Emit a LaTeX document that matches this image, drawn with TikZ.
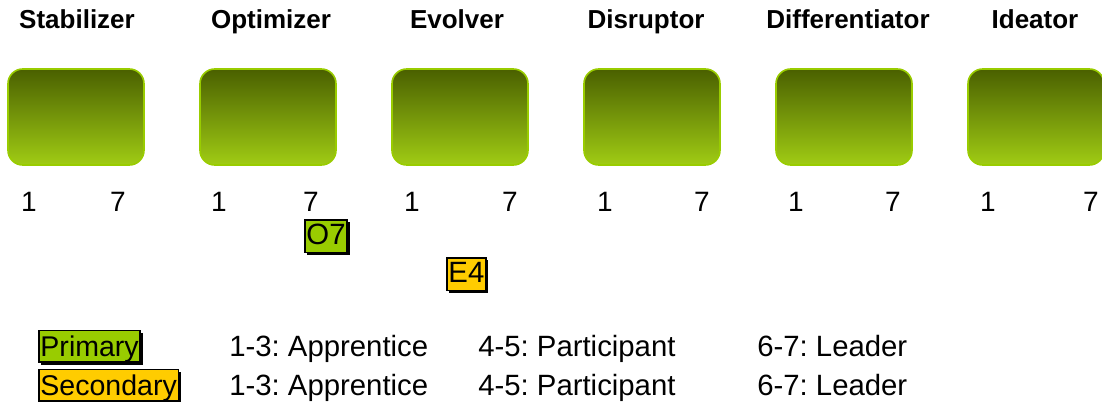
\documentclass[tikz,border=0pt]{standalone}
\usepackage{fontspec}
\setmainfont{Liberation Sans}
\usetikzlibrary{shadows}
\definecolor{boxtop}{RGB}{74,96,0}
\definecolor{boxbot}{RGB}{160,204,20}
\definecolor{boxedge}{RGB}{153,204,0}
\definecolor{prim}{RGB}{153,204,0}
\definecolor{secy}{RGB}{255,204,0}
\tikzset{
  title/.style={anchor=base, font=\fontsize{19.5}{22}\selectfont\bfseries, inner sep=0pt},
  num/.style={anchor=base, font=\fontsize{21}{24}\selectfont, inner sep=0pt},
  leg/.style={anchor=base west, font=\fontsize{22}{24}\selectfont, inner sep=0pt},
  rolebox/.style={rectangle, rounded corners=11pt, top color=boxtop, bottom color=boxbot,
     draw=boxedge, line width=1.2pt, minimum width=102pt, minimum height=72pt, inner sep=0pt},
  tag/.style={draw=black, line width=1.3pt, inner sep=1.2pt, anchor=base west,
     font=\fontsize{22}{24}\selectfont, text height=17.5pt, text depth=4.5pt,
     drop shadow={fill=black, opacity=1, shadow xshift=1.8pt, shadow yshift=-1.8pt}},
  legtag/.style={tag, inner sep=1.2pt, font=\fontsize{21.4}{24}\selectfont, text height=18pt, text depth=3.5pt},
}
\begin{document}
\frenchspacing
\begin{tikzpicture}[x=0.75pt,y=-0.75pt]
\useasboundingbox (0,0) rectangle (1102,402);
\clip (0,0) rectangle (1102,402);
% titles
\node[title] (t1) at (77,29) {Stabilizer};
\node[title] (t2) at (271,29) {Optimizer};
\node[title] (t3) at (457,29) {Evolver};
\node[title] (t4) at (646,29) {Disruptor};
\node[title] (t5) at (848,29) {Differentiator};
\node[title] (t6) at (1035,29) {Ideator};
% boxes
\node[rolebox] (b1) at (76,117) {};
\node[rolebox] (b2) at (268,117) {};
\node[rolebox] (b3) at (460,117) {};
\node[rolebox] (b4) at (652,117) {};
\node[rolebox] (b5) at (844,117) {};
\node[rolebox] (b6) at (1036,117) {};
% scale numbers
\node[num] (l1) at (29,212) {1};
\node[num] (h1) at (118,212) {7};
\node[num] (l2) at (219,212) {1};
\node[num] (h2) at (311,212) {7};
\node[num] (l3) at (412,212) {1};
\node[num] (h3) at (510,212) {7};
\node[num] (l4) at (605,212) {1};
\node[num] (h4) at (702,212) {7};
\node[num] (l5) at (796,212) {1};
\node[num] (h5) at (893,212) {7};
\node[num] (l6) at (988,212) {1};
\node[num] (h6) at (1091,212) {7};
% markers
\node[tag, fill=prim] (o7) at (304,245) {O7};
\node[tag, fill=secy] (e4) at (446,283) {E4};
% legend
\node[legtag, fill=prim] (p) at (38,356) {Primary};
\node[legtag, fill=secy] (s) at (38,395) {Secondary};
\node[leg] (pa) at (229,356) {1-3: Apprentice};
\node[leg] (pb) at (478,356) {4-5: Participant};
\node[leg] (pc) at (757,356) {6-7: Leader};
\node[leg] (sa) at (229,395) {1-3: Apprentice};
\node[leg] (sb) at (478,395) {4-5: Participant};
\node[leg] (sc) at (757,395) {6-7: Leader};
\end{tikzpicture}
\end{document}
